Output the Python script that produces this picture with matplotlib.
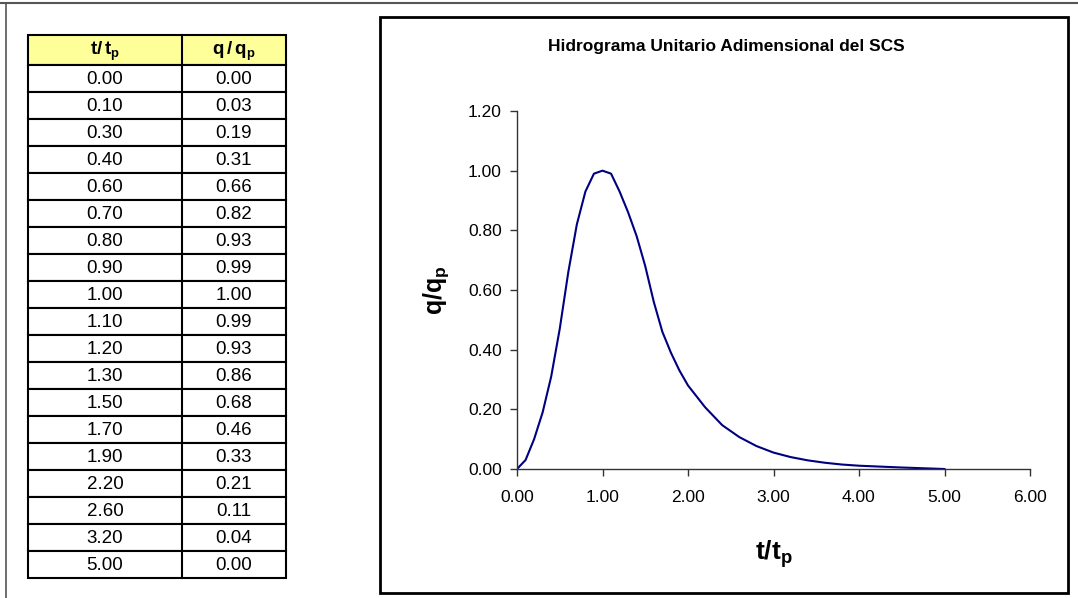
import matplotlib
matplotlib.use("Agg")
import matplotlib.pyplot as plt
from matplotlib.patches import Rectangle

plt.rcParams['font.family'] = ['Liberation Sans', 'DejaVu Sans']
plt.rcParams['mathtext.fontset'] = 'custom'
plt.rcParams['mathtext.rm'] = 'Liberation Sans'
plt.rcParams['mathtext.bf'] = 'Liberation Sans:bold'

# table shown on the left
table_t = [0.00, 0.10, 0.30, 0.40, 0.60, 0.70, 0.80, 0.90, 1.00, 1.10,
           1.20, 1.30, 1.50, 1.70, 1.90, 2.20, 2.60, 3.20, 5.00]
table_q = [0.00, 0.03, 0.19, 0.31, 0.66, 0.82, 0.93, 0.99, 1.00, 0.99,
           0.93, 0.86, 0.68, 0.46, 0.33, 0.21, 0.11, 0.04, 0.00]

# points of the plotted curve
curve_t = [0.0, 0.1, 0.2, 0.3, 0.4, 0.5, 0.6, 0.7, 0.8, 0.9, 1.0, 1.1, 1.2,
           1.3, 1.4, 1.5, 1.6, 1.7, 1.8, 1.9, 2.0, 2.2, 2.4, 2.6, 2.8, 3.0,
           3.2, 3.4, 3.6, 3.8, 4.0, 4.5, 5.0]
curve_q = [0.0, 0.03, 0.10, 0.19, 0.31, 0.47, 0.66, 0.82, 0.93, 0.99, 1.00,
           0.99, 0.93, 0.86, 0.78, 0.68, 0.56, 0.46, 0.39, 0.33, 0.28, 0.207,
           0.147, 0.107, 0.077, 0.055, 0.040, 0.029, 0.021, 0.015, 0.011,
           0.005, 0.0]

W, H = 1078, 598
fig = plt.figure(figsize=(W / 100, H / 100), dpi=100)

# background layer in pixel coords
bg = fig.add_axes([0, 0, 1, 1])
bg.set_xlim(0, W)
bg.set_ylim(H, 0)
bg.axis('off')

# page frame
bg.plot([0, W], [2.5, 2.5], color='#555555', lw=1.5)
bg.plot([6, 6], [2.5, H], color='#555555', lw=1.2)

# table
x0, xm, x1 = 28, 182, 286
top, head_h, row_h = 35, 30, 27
bg.add_patch(Rectangle((x0, top), x1 - x0, head_h, facecolor='#ffff99',
                       edgecolor='black', lw=1.5))
narrow = ['Liberation Sans Narrow', 'Arial Narrow', 'DejaVu Sans Condensed',
          'Liberation Sans']
bg.text((x0 + xm) / 2, top + head_h / 2 + 1, r'$\mathbf{t/\,t_p}$',
        ha='center', va='center', fontsize=13.5)
bg.text((xm + x1) / 2, top + head_h / 2 + 1, r'$\mathbf{q\,/\,q_p}$',
        ha='center', va='center', fontsize=13.5)
for i, (t, q) in enumerate(zip(table_t, table_q)):
    y = top + head_h + i * row_h
    bg.add_patch(Rectangle((x0, y), x1 - x0, row_h, facecolor='white',
                           edgecolor='black', lw=1.5))
    bg.text((x0 + xm) / 2, y + row_h / 2 + 1, f'{t:.2f}', ha='center',
            va='center', fontsize=13.5, family=narrow)
    bg.text((xm + x1) / 2, y + row_h / 2 + 1, f'{q:.2f}', ha='center',
            va='center', fontsize=13.5, family=narrow)
bg.plot([xm, xm], [top, top + head_h + len(table_t) * row_h],
        color='black', lw=1.5)

# chart frame
bg.add_patch(Rectangle((380, 17), 1068 - 380, 593 - 17, facecolor='none',
                       edgecolor='black', lw=2))
bg.text(726, 47, 'Hidrograma Unitario Adimensional del SCS', ha='center',
        va='center', fontsize=12.5, fontweight='bold')

# chart
ax = fig.add_axes([517 / W, (H - 469) / H, 513 / W, (469 - 111) / H])
ax.plot(curve_t, curve_q, color='#000080', lw=1.5)
ax.set_xlim(0, 6)
ax.set_ylim(0, 1.2)
ax.set_xticks([0, 1, 2, 3, 4, 5, 6])
ax.set_yticks([0, 0.2, 0.4, 0.6, 0.8, 1.0, 1.2])
ax.xaxis.set_major_formatter(lambda v, p: f'{v:.2f}')
ax.yaxis.set_major_formatter(lambda v, p: f'{v:.2f}')
for s in ['top', 'right']:
    ax.spines[s].set_visible(False)
for s in ['left', 'bottom']:
    ax.spines[s].set_color('#333333')
    ax.spines[s].set_linewidth(1)
ax.tick_params(direction='out', length=5, width=1, color='#333333',
               labelsize=12.5)
ax.tick_params(axis='x', pad=10)
ax.tick_params(axis='y', pad=6)
ax.set_xlabel(r'$\mathbf{t/t_p}$', fontsize=19, labelpad=24)
ax.set_ylabel(r'$\mathbf{q/q_p}$', fontsize=18, labelpad=12)

fig.savefig('out.png', dpi=100)
